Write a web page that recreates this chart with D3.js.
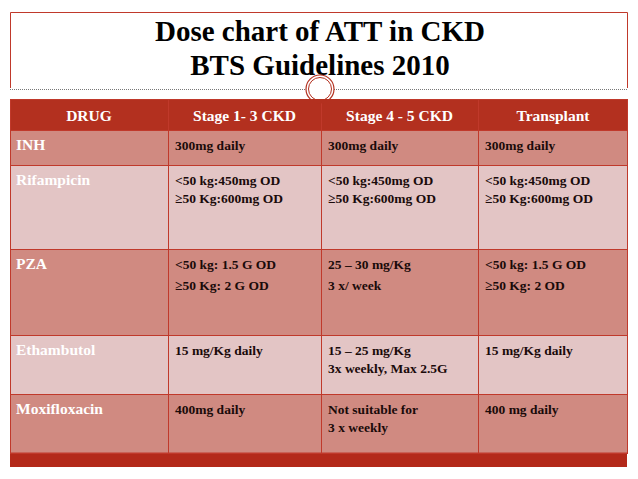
<!DOCTYPE html>
<html><head><meta charset="utf-8">
<script src="https://cdn.jsdelivr.net/npm/d3@7"></script>
<style>body{margin:0;background:#fff}svg{display:block}</style>
</head><body>
<svg id="c" width="638" height="479"></svg>
<script>
const titleLines = ["Dose chart of ATT in CKD", "BTS Guidelines 2010"];
const headers = ["DRUG", "Stage  1- 3 CKD", "Stage  4 - 5 CKD", "Transplant"];
const drugs = ["INH", "Rifampicin", "PZA", "Ethambutol", "Moxifloxacin"];
const stage13 = [["300mg daily"], ["<50 kg:450mg  OD", "\u226550 Kg:600mg OD"], ["<50 kg: 1.5 G OD", "\u226550 Kg: 2 G OD"], ["15 mg/Kg daily"], ["400mg daily"]];
const stage45 = [["300mg daily"], ["<50 kg:450mg  OD", "\u226550 Kg:600mg OD"], ["25 \u2013 30 mg/Kg", "3 x/ week"], ["15 \u2013 25 mg/Kg", "3x weekly, Max 2.5G"], ["Not suitable for", "3 x weekly"]];
const transplant = [["300mg daily"], ["<50 kg:450mg  OD", "\u226550 Kg:600mg OD"], ["<50 kg: 1.5 G OD", "\u226550 Kg:  2 OD"], ["15 mg/Kg daily"], ["400 mg daily"]];
const colEdges = [10, 168, 321, 478, 628];
const rowEdges = [130, 165, 249, 335, 394, 453];

const svg = d3.select("#c");
const F = "'Liberation Serif','Times New Roman',serif";
const border = "#c0392b";
// frame
svg.append("path").attr("d","M10.5,88 V12.5 H627.5 V88").attr("fill","none").attr("stroke",border).attr("stroke-width",1);
svg.selectAll("text.t").data(titleLines).join("text")
  .attr("x",320).attr("y",(d,i)=>41+i*34).attr("text-anchor","middle")
  .attr("font-family",F).attr("font-weight","bold").attr("font-size",29).attr("fill","#000").text(d=>d);
svg.append("line").attr("x1",10).attr("x2",628).attr("y1",89.5).attr("y2",89.5)
  .attr("stroke","#777").attr("stroke-dasharray","1,1");
// table
const x = d3.scaleOrdinal().domain([0,1,2,3]).range(colEdges.slice(0,4));
const w = i => colEdges[i+1]-colEdges[i];
svg.append("rect").attr("x",10).attr("y",99).attr("width",618).attr("height",31).attr("fill","#b3301f");
svg.selectAll("text.h").data(headers).join("text")
  .attr("x",(d,i)=>x(i)+w(i)/2).attr("y",121).attr("text-anchor","middle")
  .attr("font-family",F).attr("font-weight","bold").attr("font-size",15.5).attr("fill","#fff").text(d=>d);
const cols = [stage13, stage45, transplant];
const rows = drugs.map((d,i)=>({i, drug:d, cells: cols.map(c=>c[i])}));
const g = svg.selectAll("g.r").data(rows).join("g");
g.append("rect").attr("x",10).attr("y",d=>rowEdges[d.i]).attr("width",618)
  .attr("height",d=>rowEdges[d.i+1]-rowEdges[d.i]).attr("fill",d=>d.i%2===0?"#d08a81":"#e3c5c5");
g.append("text").attr("x",16).attr("y",d=>rowEdges[d.i]+20).attr("font-family",F).attr("font-weight","bold")
  .attr("font-size",15.5).attr("fill","#fff").text(d=>d.drug);
g.each(function(d){
  const gg = d3.select(this);
  d.cells.forEach((lines,c)=>{
    lines.forEach((t,k)=>{
      gg.append("text").attr("x",x(c+1)+7).attr("y",rowEdges[d.i]+20+k*(d.i===2?21:18))
        .attr("font-family",F).attr("font-weight","bold").attr("font-size",13.5).attr("fill","#1a0a0a").text(t);
    });
  });
});
// grid lines
svg.selectAll("line.v").data(colEdges.slice(1,4)).join("line")
  .attr("x1",d=>d+0.5).attr("x2",d=>d+0.5).attr("y1",99).attr("y2",453).attr("stroke",border).attr("stroke-width",1);
svg.selectAll("line.hz").data(rowEdges).join("line")
  .attr("x1",10).attr("x2",628).attr("y1",d=>d+0.5).attr("y2",d=>d+0.5).attr("stroke",border).attr("stroke-width",1);
svg.append("rect").attr("x",10.5).attr("y",99.5).attr("width",617).attr("height",353.5).attr("fill","none").attr("stroke",border);
svg.append("rect").attr("x",10).attr("y",454).attr("width",617).attr("height",13).attr("fill","#b3291a");
// medallion
svg.append("circle").attr("cx",320).attr("cy",89).attr("r",14).attr("fill","#fff").attr("stroke","#b3301f").attr("stroke-width",1.2);
svg.append("circle").attr("cx",320).attr("cy",89).attr("r",11.5).attr("fill","#fff").attr("stroke","#b3301f").attr("stroke-width",1);
svg.append("rect").attr("x",300).attr("y",99).attr("width",40).attr("height",4).attr("fill","#b3301f");
</script>
</body></html>
